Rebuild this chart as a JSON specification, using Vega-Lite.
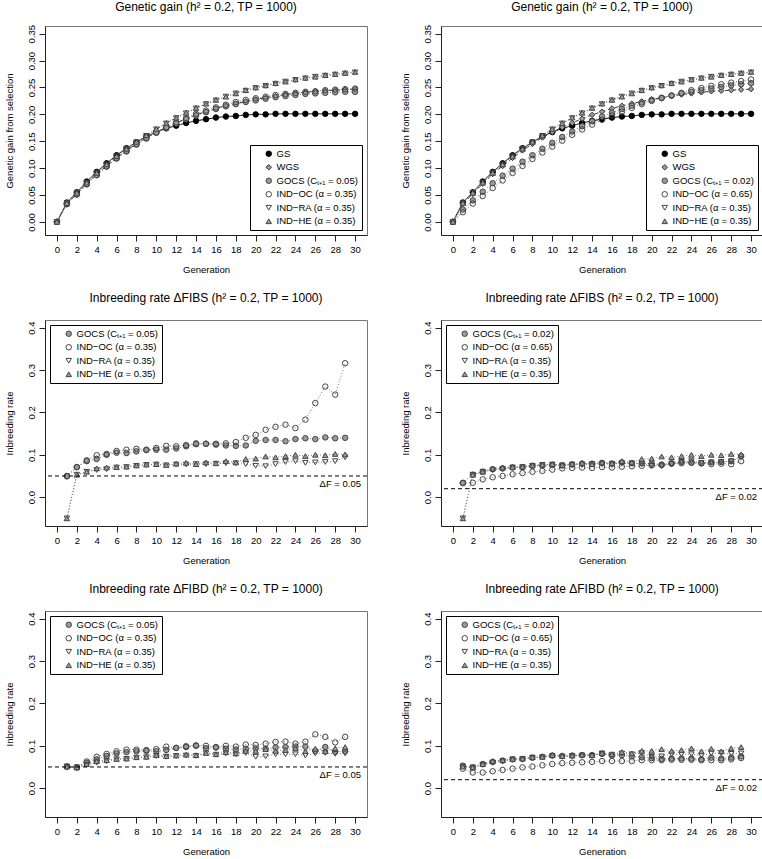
{
"$schema": "https://vega.github.io/schema/vega-lite/v6.json",
"padding": {"left": 3, "top": 0, "right": 0, "bottom": 0},
"columns": 2,
"spacing": {"row": 85, "column": 74},
"bounds": "flush",
"config": {
 "font": "Liberation Sans",
 "view": {"stroke": "#777777", "strokeWidth": 1},
 "axis": {"grid": false, "domainColor": "#222222", "tickColor": "#222222", "labelColor": "black", "titleColor": "black", "labelFontSize": 9.5, "titleFontSize": 9.5, "titleFontWeight": "normal", "tickSize": 6, "labelPadding": 3, "titlePadding": 12, "labelFont": "Liberation Sans", "titleFont": "Liberation Sans", "labelFlush": false, "labelOverlap": false},
 "axisX": {"titlePadding": 11},
 "axisY": {"labelAngle": -90, "labelAlign": "center", "labelBaseline": "bottom"},
 "title": {"fontSize": 12, "fontWeight": "normal", "font": "Liberation Sans", "color": "black", "anchor": "middle"},
 "legend": {"strokeColor": "black", "fillColor": "white", "padding": 4, "cornerRadius": 0, "labelFontSize": 9.5, "labelFont": "Liberation Sans", "labelColor": "black", "symbolSize": 30, "symbolStrokeWidth": 1, "rowPadding": 2.5, "symbolOffset": 10, "labelOffset": 3, "labelLimit": 300}
},
"datasets": {
"gl": [
{"g":0,"s":"GS","v":0},{"g":1,"s":"GS","v":0.036},{"g":2,"s":"GS","v":0.055},{"g":3,"s":"GS","v":0.075},{"g":4,"s":"GS","v":0.093},{"g":5,"s":"GS","v":0.109},{"g":6,"s":"GS","v":0.124},{"g":7,"s":"GS","v":0.137},{"g":8,"s":"GS","v":0.148},{"g":9,"s":"GS","v":0.159},{"g":10,"s":"GS","v":0.167},{"g":11,"s":"GS","v":0.174},{"g":12,"s":"GS","v":0.179},{"g":13,"s":"GS","v":0.184},{"g":14,"s":"GS","v":0.188},{"g":15,"s":"GS","v":0.191},{"g":16,"s":"GS","v":0.194},{"g":17,"s":"GS","v":0.196},{"g":18,"s":"GS","v":0.197},{"g":19,"s":"GS","v":0.199},{"g":20,"s":"GS","v":0.2},{"g":21,"s":"GS","v":0.2},{"g":22,"s":"GS","v":0.201},{"g":23,"s":"GS","v":0.201},{"g":24,"s":"GS","v":0.201},{"g":25,"s":"GS","v":0.201},{"g":26,"s":"GS","v":0.201},{"g":27,"s":"GS","v":0.201},{"g":28,"s":"GS","v":0.201},{"g":29,"s":"GS","v":0.201},{"g":30,"s":"GS","v":0.201},
{"g":0,"s":"WGS","v":0},{"g":1,"s":"WGS","v":0.034},{"g":2,"s":"WGS","v":0.052},{"g":3,"s":"WGS","v":0.071},{"g":4,"s":"WGS","v":0.089},{"g":5,"s":"WGS","v":0.104},{"g":6,"s":"WGS","v":0.119},{"g":7,"s":"WGS","v":0.133},{"g":8,"s":"WGS","v":0.145},{"g":9,"s":"WGS","v":0.157},{"g":10,"s":"WGS","v":0.167},{"g":11,"s":"WGS","v":0.176},{"g":12,"s":"WGS","v":0.184},{"g":13,"s":"WGS","v":0.192},{"g":14,"s":"WGS","v":0.199},{"g":15,"s":"WGS","v":0.205},{"g":16,"s":"WGS","v":0.211},{"g":17,"s":"WGS","v":0.216},{"g":18,"s":"WGS","v":0.22},{"g":19,"s":"WGS","v":0.224},{"g":20,"s":"WGS","v":0.228},{"g":21,"s":"WGS","v":0.231},{"g":22,"s":"WGS","v":0.234},{"g":23,"s":"WGS","v":0.237},{"g":24,"s":"WGS","v":0.239},{"g":25,"s":"WGS","v":0.241},{"g":26,"s":"WGS","v":0.243},{"g":27,"s":"WGS","v":0.244},{"g":28,"s":"WGS","v":0.245},{"g":29,"s":"WGS","v":0.246},{"g":30,"s":"WGS","v":0.247},
{"g":0,"s":"GOCS","v":0},{"g":1,"s":"GOCS","v":0.033},{"g":2,"s":"GOCS","v":0.051},{"g":3,"s":"GOCS","v":0.07},{"g":4,"s":"GOCS","v":0.087},{"g":5,"s":"GOCS","v":0.103},{"g":6,"s":"GOCS","v":0.118},{"g":7,"s":"GOCS","v":0.131},{"g":8,"s":"GOCS","v":0.144},{"g":9,"s":"GOCS","v":0.155},{"g":10,"s":"GOCS","v":0.166},{"g":11,"s":"GOCS","v":0.175},{"g":12,"s":"GOCS","v":0.183},{"g":13,"s":"GOCS","v":0.191},{"g":14,"s":"GOCS","v":0.198},{"g":15,"s":"GOCS","v":0.204},{"g":16,"s":"GOCS","v":0.21},{"g":17,"s":"GOCS","v":0.215},{"g":18,"s":"GOCS","v":0.219},{"g":19,"s":"GOCS","v":0.223},{"g":20,"s":"GOCS","v":0.226},{"g":21,"s":"GOCS","v":0.229},{"g":22,"s":"GOCS","v":0.232},{"g":23,"s":"GOCS","v":0.234},{"g":24,"s":"GOCS","v":0.236},{"g":25,"s":"GOCS","v":0.238},{"g":26,"s":"GOCS","v":0.239},{"g":27,"s":"GOCS","v":0.24},{"g":28,"s":"GOCS","v":0.241},{"g":29,"s":"GOCS","v":0.242},{"g":30,"s":"GOCS","v":0.242},
{"g":0,"s":"OC","v":0},{"g":1,"s":"OC","v":0.033},{"g":2,"s":"OC","v":0.051},{"g":3,"s":"OC","v":0.07},{"g":4,"s":"OC","v":0.087},{"g":5,"s":"OC","v":0.103},{"g":6,"s":"OC","v":0.118},{"g":7,"s":"OC","v":0.132},{"g":8,"s":"OC","v":0.144},{"g":9,"s":"OC","v":0.156},{"g":10,"s":"OC","v":0.166},{"g":11,"s":"OC","v":0.176},{"g":12,"s":"OC","v":0.185},{"g":13,"s":"OC","v":0.193},{"g":14,"s":"OC","v":0.201},{"g":15,"s":"OC","v":0.207},{"g":16,"s":"OC","v":0.213},{"g":17,"s":"OC","v":0.218},{"g":18,"s":"OC","v":0.223},{"g":19,"s":"OC","v":0.227},{"g":20,"s":"OC","v":0.23},{"g":21,"s":"OC","v":0.233},{"g":22,"s":"OC","v":0.236},{"g":23,"s":"OC","v":0.238},{"g":24,"s":"OC","v":0.24},{"g":25,"s":"OC","v":0.242},{"g":26,"s":"OC","v":0.243},{"g":27,"s":"OC","v":0.245},{"g":28,"s":"OC","v":0.246},{"g":29,"s":"OC","v":0.247},{"g":30,"s":"OC","v":0.248},
{"g":0,"s":"RA","v":0},{"g":1,"s":"RA","v":0.035},{"g":2,"s":"RA","v":0.054},{"g":3,"s":"RA","v":0.073},{"g":4,"s":"RA","v":0.091},{"g":5,"s":"RA","v":0.107},{"g":6,"s":"RA","v":0.122},{"g":7,"s":"RA","v":0.136},{"g":8,"s":"RA","v":0.148},{"g":9,"s":"RA","v":0.16},{"g":10,"s":"RA","v":0.172},{"g":11,"s":"RA","v":0.183},{"g":12,"s":"RA","v":0.193},{"g":13,"s":"RA","v":0.202},{"g":14,"s":"RA","v":0.211},{"g":15,"s":"RA","v":0.219},{"g":16,"s":"RA","v":0.226},{"g":17,"s":"RA","v":0.233},{"g":18,"s":"RA","v":0.239},{"g":19,"s":"RA","v":0.244},{"g":20,"s":"RA","v":0.249},{"g":21,"s":"RA","v":0.253},{"g":22,"s":"RA","v":0.257},{"g":23,"s":"RA","v":0.261},{"g":24,"s":"RA","v":0.264},{"g":25,"s":"RA","v":0.267},{"g":26,"s":"RA","v":0.27},{"g":27,"s":"RA","v":0.272},{"g":28,"s":"RA","v":0.274},{"g":29,"s":"RA","v":0.276},{"g":30,"s":"RA","v":0.278},
{"g":0,"s":"HE","v":0},{"g":1,"s":"HE","v":0.035},{"g":2,"s":"HE","v":0.054},{"g":3,"s":"HE","v":0.073},{"g":4,"s":"HE","v":0.091},{"g":5,"s":"HE","v":0.107},{"g":6,"s":"HE","v":0.122},{"g":7,"s":"HE","v":0.136},{"g":8,"s":"HE","v":0.149},{"g":9,"s":"HE","v":0.161},{"g":10,"s":"HE","v":0.173},{"g":11,"s":"HE","v":0.184},{"g":12,"s":"HE","v":0.194},{"g":13,"s":"HE","v":0.203},{"g":14,"s":"HE","v":0.212},{"g":15,"s":"HE","v":0.22},{"g":16,"s":"HE","v":0.227},{"g":17,"s":"HE","v":0.233},{"g":18,"s":"HE","v":0.239},{"g":19,"s":"HE","v":0.245},{"g":20,"s":"HE","v":0.25},{"g":21,"s":"HE","v":0.254},{"g":22,"s":"HE","v":0.258},{"g":23,"s":"HE","v":0.261},{"g":24,"s":"HE","v":0.265},{"g":25,"s":"HE","v":0.268},{"g":26,"s":"HE","v":0.27},{"g":27,"s":"HE","v":0.273},{"g":28,"s":"HE","v":0.275},{"g":29,"s":"HE","v":0.277},{"g":30,"s":"HE","v":0.279}
],
"gr": [
{"g":0,"s":"GS","v":0},{"g":1,"s":"GS","v":0.036},{"g":2,"s":"GS","v":0.055},{"g":3,"s":"GS","v":0.075},{"g":4,"s":"GS","v":0.093},{"g":5,"s":"GS","v":0.109},{"g":6,"s":"GS","v":0.124},{"g":7,"s":"GS","v":0.137},{"g":8,"s":"GS","v":0.148},{"g":9,"s":"GS","v":0.159},{"g":10,"s":"GS","v":0.167},{"g":11,"s":"GS","v":0.174},{"g":12,"s":"GS","v":0.179},{"g":13,"s":"GS","v":0.184},{"g":14,"s":"GS","v":0.188},{"g":15,"s":"GS","v":0.191},{"g":16,"s":"GS","v":0.194},{"g":17,"s":"GS","v":0.196},{"g":18,"s":"GS","v":0.197},{"g":19,"s":"GS","v":0.199},{"g":20,"s":"GS","v":0.2},{"g":21,"s":"GS","v":0.2},{"g":22,"s":"GS","v":0.201},{"g":23,"s":"GS","v":0.201},{"g":24,"s":"GS","v":0.201},{"g":25,"s":"GS","v":0.201},{"g":26,"s":"GS","v":0.201},{"g":27,"s":"GS","v":0.201},{"g":28,"s":"GS","v":0.201},{"g":29,"s":"GS","v":0.201},{"g":30,"s":"GS","v":0.201},
{"g":0,"s":"WGS","v":0},{"g":1,"s":"WGS","v":0.034},{"g":2,"s":"WGS","v":0.052},{"g":3,"s":"WGS","v":0.071},{"g":4,"s":"WGS","v":0.089},{"g":5,"s":"WGS","v":0.104},{"g":6,"s":"WGS","v":0.119},{"g":7,"s":"WGS","v":0.133},{"g":8,"s":"WGS","v":0.145},{"g":9,"s":"WGS","v":0.157},{"g":10,"s":"WGS","v":0.167},{"g":11,"s":"WGS","v":0.176},{"g":12,"s":"WGS","v":0.184},{"g":13,"s":"WGS","v":0.192},{"g":14,"s":"WGS","v":0.199},{"g":15,"s":"WGS","v":0.205},{"g":16,"s":"WGS","v":0.211},{"g":17,"s":"WGS","v":0.216},{"g":18,"s":"WGS","v":0.22},{"g":19,"s":"WGS","v":0.224},{"g":20,"s":"WGS","v":0.228},{"g":21,"s":"WGS","v":0.231},{"g":22,"s":"WGS","v":0.234},{"g":23,"s":"WGS","v":0.237},{"g":24,"s":"WGS","v":0.239},{"g":25,"s":"WGS","v":0.241},{"g":26,"s":"WGS","v":0.243},{"g":27,"s":"WGS","v":0.244},{"g":28,"s":"WGS","v":0.245},{"g":29,"s":"WGS","v":0.246},{"g":30,"s":"WGS","v":0.247},
{"g":0,"s":"GOCS","v":0},{"g":1,"s":"GOCS","v":0.023},{"g":2,"s":"GOCS","v":0.04},{"g":3,"s":"GOCS","v":0.056},{"g":4,"s":"GOCS","v":0.072},{"g":5,"s":"GOCS","v":0.086},{"g":6,"s":"GOCS","v":0.099},{"g":7,"s":"GOCS","v":0.112},{"g":8,"s":"GOCS","v":0.124},{"g":9,"s":"GOCS","v":0.136},{"g":10,"s":"GOCS","v":0.147},{"g":11,"s":"GOCS","v":0.158},{"g":12,"s":"GOCS","v":0.168},{"g":13,"s":"GOCS","v":0.178},{"g":14,"s":"GOCS","v":0.187},{"g":15,"s":"GOCS","v":0.196},{"g":16,"s":"GOCS","v":0.203},{"g":17,"s":"GOCS","v":0.21},{"g":18,"s":"GOCS","v":0.216},{"g":19,"s":"GOCS","v":0.222},{"g":20,"s":"GOCS","v":0.227},{"g":21,"s":"GOCS","v":0.231},{"g":22,"s":"GOCS","v":0.235},{"g":23,"s":"GOCS","v":0.239},{"g":24,"s":"GOCS","v":0.242},{"g":25,"s":"GOCS","v":0.245},{"g":26,"s":"GOCS","v":0.248},{"g":27,"s":"GOCS","v":0.251},{"g":28,"s":"GOCS","v":0.254},{"g":29,"s":"GOCS","v":0.256},{"g":30,"s":"GOCS","v":0.258},
{"g":0,"s":"OC","v":0},{"g":1,"s":"OC","v":0.018},{"g":2,"s":"OC","v":0.034},{"g":3,"s":"OC","v":0.048},{"g":4,"s":"OC","v":0.063},{"g":5,"s":"OC","v":0.077},{"g":6,"s":"OC","v":0.091},{"g":7,"s":"OC","v":0.104},{"g":8,"s":"OC","v":0.117},{"g":9,"s":"OC","v":0.129},{"g":10,"s":"OC","v":0.14},{"g":11,"s":"OC","v":0.151},{"g":12,"s":"OC","v":0.162},{"g":13,"s":"OC","v":0.172},{"g":14,"s":"OC","v":0.181},{"g":15,"s":"OC","v":0.19},{"g":16,"s":"OC","v":0.198},{"g":17,"s":"OC","v":0.205},{"g":18,"s":"OC","v":0.212},{"g":19,"s":"OC","v":0.219},{"g":20,"s":"OC","v":0.225},{"g":21,"s":"OC","v":0.23},{"g":22,"s":"OC","v":0.235},{"g":23,"s":"OC","v":0.24},{"g":24,"s":"OC","v":0.245},{"g":25,"s":"OC","v":0.249},{"g":26,"s":"OC","v":0.253},{"g":27,"s":"OC","v":0.256},{"g":28,"s":"OC","v":0.259},{"g":29,"s":"OC","v":0.262},{"g":30,"s":"OC","v":0.265},
{"g":0,"s":"RA","v":0},{"g":1,"s":"RA","v":0.035},{"g":2,"s":"RA","v":0.054},{"g":3,"s":"RA","v":0.073},{"g":4,"s":"RA","v":0.091},{"g":5,"s":"RA","v":0.107},{"g":6,"s":"RA","v":0.122},{"g":7,"s":"RA","v":0.136},{"g":8,"s":"RA","v":0.148},{"g":9,"s":"RA","v":0.16},{"g":10,"s":"RA","v":0.172},{"g":11,"s":"RA","v":0.183},{"g":12,"s":"RA","v":0.193},{"g":13,"s":"RA","v":0.202},{"g":14,"s":"RA","v":0.211},{"g":15,"s":"RA","v":0.219},{"g":16,"s":"RA","v":0.226},{"g":17,"s":"RA","v":0.233},{"g":18,"s":"RA","v":0.239},{"g":19,"s":"RA","v":0.244},{"g":20,"s":"RA","v":0.249},{"g":21,"s":"RA","v":0.253},{"g":22,"s":"RA","v":0.257},{"g":23,"s":"RA","v":0.261},{"g":24,"s":"RA","v":0.264},{"g":25,"s":"RA","v":0.267},{"g":26,"s":"RA","v":0.27},{"g":27,"s":"RA","v":0.272},{"g":28,"s":"RA","v":0.274},{"g":29,"s":"RA","v":0.276},{"g":30,"s":"RA","v":0.278},
{"g":0,"s":"HE","v":0},{"g":1,"s":"HE","v":0.035},{"g":2,"s":"HE","v":0.054},{"g":3,"s":"HE","v":0.073},{"g":4,"s":"HE","v":0.091},{"g":5,"s":"HE","v":0.107},{"g":6,"s":"HE","v":0.122},{"g":7,"s":"HE","v":0.136},{"g":8,"s":"HE","v":0.149},{"g":9,"s":"HE","v":0.161},{"g":10,"s":"HE","v":0.173},{"g":11,"s":"HE","v":0.184},{"g":12,"s":"HE","v":0.194},{"g":13,"s":"HE","v":0.203},{"g":14,"s":"HE","v":0.212},{"g":15,"s":"HE","v":0.22},{"g":16,"s":"HE","v":0.227},{"g":17,"s":"HE","v":0.233},{"g":18,"s":"HE","v":0.239},{"g":19,"s":"HE","v":0.245},{"g":20,"s":"HE","v":0.25},{"g":21,"s":"HE","v":0.254},{"g":22,"s":"HE","v":0.258},{"g":23,"s":"HE","v":0.261},{"g":24,"s":"HE","v":0.265},{"g":25,"s":"HE","v":0.268},{"g":26,"s":"HE","v":0.27},{"g":27,"s":"HE","v":0.273},{"g":28,"s":"HE","v":0.275},{"g":29,"s":"HE","v":0.277},{"g":30,"s":"HE","v":0.279}
],
"il": [
{"g":1,"s":"GOCS","v":0.05},{"g":2,"s":"GOCS","v":0.071},{"g":3,"s":"GOCS","v":0.085},{"g":4,"s":"GOCS","v":0.09},{"g":5,"s":"GOCS","v":0.1},{"g":6,"s":"GOCS","v":0.105},{"g":7,"s":"GOCS","v":0.104},{"g":8,"s":"GOCS","v":0.108},{"g":9,"s":"GOCS","v":0.111},{"g":10,"s":"GOCS","v":0.112},{"g":11,"s":"GOCS","v":0.112},{"g":12,"s":"GOCS","v":0.115},{"g":13,"s":"GOCS","v":0.12},{"g":14,"s":"GOCS","v":0.125},{"g":15,"s":"GOCS","v":0.126},{"g":16,"s":"GOCS","v":0.124},{"g":17,"s":"GOCS","v":0.122},{"g":18,"s":"GOCS","v":0.121},{"g":19,"s":"GOCS","v":0.122},{"g":20,"s":"GOCS","v":0.133},{"g":21,"s":"GOCS","v":0.135},{"g":22,"s":"GOCS","v":0.135},{"g":23,"s":"GOCS","v":0.132},{"g":24,"s":"GOCS","v":0.137},{"g":25,"s":"GOCS","v":0.139},{"g":26,"s":"GOCS","v":0.137},{"g":27,"s":"GOCS","v":0.141},{"g":28,"s":"GOCS","v":0.139},{"g":29,"s":"GOCS","v":0.14},
{"g":1,"s":"OC","v":0.049},{"g":2,"s":"OC","v":0.071},{"g":3,"s":"OC","v":0.087},{"g":4,"s":"OC","v":0.099},{"g":5,"s":"OC","v":0.102},{"g":6,"s":"OC","v":0.109},{"g":7,"s":"OC","v":0.112},{"g":8,"s":"OC","v":0.114},{"g":9,"s":"OC","v":0.112},{"g":10,"s":"OC","v":0.116},{"g":11,"s":"OC","v":0.121},{"g":12,"s":"OC","v":0.12},{"g":13,"s":"OC","v":0.123},{"g":14,"s":"OC","v":0.127},{"g":15,"s":"OC","v":0.126},{"g":16,"s":"OC","v":0.126},{"g":17,"s":"OC","v":0.127},{"g":18,"s":"OC","v":0.13},{"g":19,"s":"OC","v":0.14},{"g":20,"s":"OC","v":0.147},{"g":21,"s":"OC","v":0.159},{"g":22,"s":"OC","v":0.166},{"g":23,"s":"OC","v":0.171},{"g":24,"s":"OC","v":0.163},{"g":25,"s":"OC","v":0.183},{"g":26,"s":"OC","v":0.222},{"g":27,"s":"OC","v":0.261},{"g":28,"s":"OC","v":0.242},{"g":29,"s":"OC","v":0.316},
{"g":1,"s":"RA","v":-0.05},{"g":2,"s":"RA","v":0.053},{"g":3,"s":"RA","v":0.06},{"g":4,"s":"RA","v":0.064},{"g":5,"s":"RA","v":0.066},{"g":6,"s":"RA","v":0.07},{"g":7,"s":"RA","v":0.071},{"g":8,"s":"RA","v":0.074},{"g":9,"s":"RA","v":0.076},{"g":10,"s":"RA","v":0.077},{"g":11,"s":"RA","v":0.075},{"g":12,"s":"RA","v":0.077},{"g":13,"s":"RA","v":0.077},{"g":14,"s":"RA","v":0.078},{"g":15,"s":"RA","v":0.078},{"g":16,"s":"RA","v":0.079},{"g":17,"s":"RA","v":0.08},{"g":18,"s":"RA","v":0.08},{"g":19,"s":"RA","v":0.078},{"g":20,"s":"RA","v":0.074},{"g":21,"s":"RA","v":0.073},{"g":22,"s":"RA","v":0.078},{"g":23,"s":"RA","v":0.083},{"g":24,"s":"RA","v":0.085},{"g":25,"s":"RA","v":0.081},{"g":26,"s":"RA","v":0.082},{"g":27,"s":"RA","v":0.083},{"g":28,"s":"RA","v":0.085},{"g":29,"s":"RA","v":0.094},
{"g":1,"s":"HE","v":-0.05},{"g":2,"s":"HE","v":0.053},{"g":3,"s":"HE","v":0.06},{"g":4,"s":"HE","v":0.068},{"g":5,"s":"HE","v":0.07},{"g":6,"s":"HE","v":0.071},{"g":7,"s":"HE","v":0.072},{"g":8,"s":"HE","v":0.075},{"g":9,"s":"HE","v":0.077},{"g":10,"s":"HE","v":0.078},{"g":11,"s":"HE","v":0.076},{"g":12,"s":"HE","v":0.079},{"g":13,"s":"HE","v":0.081},{"g":14,"s":"HE","v":0.078},{"g":15,"s":"HE","v":0.082},{"g":16,"s":"HE","v":0.08},{"g":17,"s":"HE","v":0.085},{"g":18,"s":"HE","v":0.082},{"g":19,"s":"HE","v":0.09},{"g":20,"s":"HE","v":0.091},{"g":21,"s":"HE","v":0.096},{"g":22,"s":"HE","v":0.094},{"g":23,"s":"HE","v":0.097},{"g":24,"s":"HE","v":0.1},{"g":25,"s":"HE","v":0.097},{"g":26,"s":"HE","v":0.1},{"g":27,"s":"HE","v":0.099},{"g":28,"s":"HE","v":0.102},{"g":29,"s":"HE","v":0.101}
],
"ir": [
{"g":1,"s":"GOCS","v":0.034},{"g":2,"s":"GOCS","v":0.053},{"g":3,"s":"GOCS","v":0.06},{"g":4,"s":"GOCS","v":0.066},{"g":5,"s":"GOCS","v":0.068},{"g":6,"s":"GOCS","v":0.07},{"g":7,"s":"GOCS","v":0.071},{"g":8,"s":"GOCS","v":0.074},{"g":9,"s":"GOCS","v":0.075},{"g":10,"s":"GOCS","v":0.076},{"g":11,"s":"GOCS","v":0.075},{"g":12,"s":"GOCS","v":0.077},{"g":13,"s":"GOCS","v":0.079},{"g":14,"s":"GOCS","v":0.079},{"g":15,"s":"GOCS","v":0.081},{"g":16,"s":"GOCS","v":0.079},{"g":17,"s":"GOCS","v":0.082},{"g":18,"s":"GOCS","v":0.08},{"g":19,"s":"GOCS","v":0.08},{"g":20,"s":"GOCS","v":0.079},{"g":21,"s":"GOCS","v":0.077},{"g":22,"s":"GOCS","v":0.08},{"g":23,"s":"GOCS","v":0.083},{"g":24,"s":"GOCS","v":0.082},{"g":25,"s":"GOCS","v":0.08},{"g":26,"s":"GOCS","v":0.082},{"g":27,"s":"GOCS","v":0.083},{"g":28,"s":"GOCS","v":0.085},{"g":29,"s":"GOCS","v":0.097},
{"g":1,"s":"OC","v":0.033},{"g":2,"s":"OC","v":0.034},{"g":3,"s":"OC","v":0.042},{"g":4,"s":"OC","v":0.047},{"g":5,"s":"OC","v":0.05},{"g":6,"s":"OC","v":0.054},{"g":7,"s":"OC","v":0.057},{"g":8,"s":"OC","v":0.06},{"g":9,"s":"OC","v":0.062},{"g":10,"s":"OC","v":0.065},{"g":11,"s":"OC","v":0.068},{"g":12,"s":"OC","v":0.069},{"g":13,"s":"OC","v":0.07},{"g":14,"s":"OC","v":0.069},{"g":15,"s":"OC","v":0.071},{"g":16,"s":"OC","v":0.07},{"g":17,"s":"OC","v":0.072},{"g":18,"s":"OC","v":0.073},{"g":19,"s":"OC","v":0.074},{"g":20,"s":"OC","v":0.075},{"g":21,"s":"OC","v":0.076},{"g":22,"s":"OC","v":0.079},{"g":23,"s":"OC","v":0.08},{"g":24,"s":"OC","v":0.081},{"g":25,"s":"OC","v":0.08},{"g":26,"s":"OC","v":0.078},{"g":27,"s":"OC","v":0.079},{"g":28,"s":"OC","v":0.078},{"g":29,"s":"OC","v":0.085},
{"g":1,"s":"RA","v":-0.05},{"g":2,"s":"RA","v":0.053},{"g":3,"s":"RA","v":0.06},{"g":4,"s":"RA","v":0.064},{"g":5,"s":"RA","v":0.066},{"g":6,"s":"RA","v":0.07},{"g":7,"s":"RA","v":0.071},{"g":8,"s":"RA","v":0.074},{"g":9,"s":"RA","v":0.076},{"g":10,"s":"RA","v":0.077},{"g":11,"s":"RA","v":0.075},{"g":12,"s":"RA","v":0.077},{"g":13,"s":"RA","v":0.077},{"g":14,"s":"RA","v":0.078},{"g":15,"s":"RA","v":0.078},{"g":16,"s":"RA","v":0.079},{"g":17,"s":"RA","v":0.08},{"g":18,"s":"RA","v":0.08},{"g":19,"s":"RA","v":0.078},{"g":20,"s":"RA","v":0.074},{"g":21,"s":"RA","v":0.073},{"g":22,"s":"RA","v":0.078},{"g":23,"s":"RA","v":0.083},{"g":24,"s":"RA","v":0.085},{"g":25,"s":"RA","v":0.081},{"g":26,"s":"RA","v":0.082},{"g":27,"s":"RA","v":0.083},{"g":28,"s":"RA","v":0.085},{"g":29,"s":"RA","v":0.094},
{"g":1,"s":"HE","v":-0.05},{"g":2,"s":"HE","v":0.053},{"g":3,"s":"HE","v":0.06},{"g":4,"s":"HE","v":0.068},{"g":5,"s":"HE","v":0.07},{"g":6,"s":"HE","v":0.071},{"g":7,"s":"HE","v":0.072},{"g":8,"s":"HE","v":0.075},{"g":9,"s":"HE","v":0.077},{"g":10,"s":"HE","v":0.078},{"g":11,"s":"HE","v":0.076},{"g":12,"s":"HE","v":0.079},{"g":13,"s":"HE","v":0.081},{"g":14,"s":"HE","v":0.078},{"g":15,"s":"HE","v":0.082},{"g":16,"s":"HE","v":0.08},{"g":17,"s":"HE","v":0.085},{"g":18,"s":"HE","v":0.082},{"g":19,"s":"HE","v":0.09},{"g":20,"s":"HE","v":0.091},{"g":21,"s":"HE","v":0.096},{"g":22,"s":"HE","v":0.094},{"g":23,"s":"HE","v":0.097},{"g":24,"s":"HE","v":0.1},{"g":25,"s":"HE","v":0.097},{"g":26,"s":"HE","v":0.1},{"g":27,"s":"HE","v":0.099},{"g":28,"s":"HE","v":0.102},{"g":29,"s":"HE","v":0.101}
],
"dl": [
{"g":1,"s":"GOCS","v":0.051},{"g":2,"s":"GOCS","v":0.049},{"g":3,"s":"GOCS","v":0.06},{"g":4,"s":"GOCS","v":0.068},{"g":5,"s":"GOCS","v":0.076},{"g":6,"s":"GOCS","v":0.082},{"g":7,"s":"GOCS","v":0.085},{"g":8,"s":"GOCS","v":0.087},{"g":9,"s":"GOCS","v":0.088},{"g":10,"s":"GOCS","v":0.087},{"g":11,"s":"GOCS","v":0.09},{"g":12,"s":"GOCS","v":0.095},{"g":13,"s":"GOCS","v":0.097},{"g":14,"s":"GOCS","v":0.1},{"g":15,"s":"GOCS","v":0.094},{"g":16,"s":"GOCS","v":0.096},{"g":17,"s":"GOCS","v":0.093},{"g":18,"s":"GOCS","v":0.091},{"g":19,"s":"GOCS","v":0.093},{"g":20,"s":"GOCS","v":0.094},{"g":21,"s":"GOCS","v":0.093},{"g":22,"s":"GOCS","v":0.096},{"g":23,"s":"GOCS","v":0.097},{"g":24,"s":"GOCS","v":0.098},{"g":25,"s":"GOCS","v":0.098},{"g":26,"s":"GOCS","v":0.088},{"g":27,"s":"GOCS","v":0.097},{"g":28,"s":"GOCS","v":0.086},{"g":29,"s":"GOCS","v":0.087},
{"g":1,"s":"OC","v":0.051},{"g":2,"s":"OC","v":0.049},{"g":3,"s":"OC","v":0.063},{"g":4,"s":"OC","v":0.074},{"g":5,"s":"OC","v":0.081},{"g":6,"s":"OC","v":0.087},{"g":7,"s":"OC","v":0.091},{"g":8,"s":"OC","v":0.091},{"g":9,"s":"OC","v":0.09},{"g":10,"s":"OC","v":0.092},{"g":11,"s":"OC","v":0.098},{"g":12,"s":"OC","v":0.095},{"g":13,"s":"OC","v":0.099},{"g":14,"s":"OC","v":0.101},{"g":15,"s":"OC","v":0.1},{"g":16,"s":"OC","v":0.097},{"g":17,"s":"OC","v":0.1},{"g":18,"s":"OC","v":0.098},{"g":19,"s":"OC","v":0.103},{"g":20,"s":"OC","v":0.102},{"g":21,"s":"OC","v":0.105},{"g":22,"s":"OC","v":0.109},{"g":23,"s":"OC","v":0.11},{"g":24,"s":"OC","v":0.105},{"g":25,"s":"OC","v":0.11},{"g":26,"s":"OC","v":0.127},{"g":27,"s":"OC","v":0.121},{"g":28,"s":"OC","v":0.108},{"g":29,"s":"OC","v":0.121},
{"g":1,"s":"RA","v":0.051},{"g":2,"s":"RA","v":0.049},{"g":3,"s":"RA","v":0.055},{"g":4,"s":"RA","v":0.06},{"g":5,"s":"RA","v":0.064},{"g":6,"s":"RA","v":0.068},{"g":7,"s":"RA","v":0.069},{"g":8,"s":"RA","v":0.072},{"g":9,"s":"RA","v":0.073},{"g":10,"s":"RA","v":0.076},{"g":11,"s":"RA","v":0.074},{"g":12,"s":"RA","v":0.076},{"g":13,"s":"RA","v":0.077},{"g":14,"s":"RA","v":0.076},{"g":15,"s":"RA","v":0.082},{"g":16,"s":"RA","v":0.079},{"g":17,"s":"RA","v":0.082},{"g":18,"s":"RA","v":0.08},{"g":19,"s":"RA","v":0.083},{"g":20,"s":"RA","v":0.074},{"g":21,"s":"RA","v":0.075},{"g":22,"s":"RA","v":0.08},{"g":23,"s":"RA","v":0.08},{"g":24,"s":"RA","v":0.08},{"g":25,"s":"RA","v":0.077},{"g":26,"s":"RA","v":0.082},{"g":27,"s":"RA","v":0.083},{"g":28,"s":"RA","v":0.081},{"g":29,"s":"RA","v":0.082},
{"g":1,"s":"HE","v":0.051},{"g":2,"s":"HE","v":0.049},{"g":3,"s":"HE","v":0.057},{"g":4,"s":"HE","v":0.064},{"g":5,"s":"HE","v":0.066},{"g":6,"s":"HE","v":0.069},{"g":7,"s":"HE","v":0.07},{"g":8,"s":"HE","v":0.073},{"g":9,"s":"HE","v":0.074},{"g":10,"s":"HE","v":0.078},{"g":11,"s":"HE","v":0.076},{"g":12,"s":"HE","v":0.077},{"g":13,"s":"HE","v":0.079},{"g":14,"s":"HE","v":0.078},{"g":15,"s":"HE","v":0.083},{"g":16,"s":"HE","v":0.08},{"g":17,"s":"HE","v":0.085},{"g":18,"s":"HE","v":0.082},{"g":19,"s":"HE","v":0.088},{"g":20,"s":"HE","v":0.088},{"g":21,"s":"HE","v":0.092},{"g":22,"s":"HE","v":0.088},{"g":23,"s":"HE","v":0.09},{"g":24,"s":"HE","v":0.094},{"g":25,"s":"HE","v":0.087},{"g":26,"s":"HE","v":0.093},{"g":27,"s":"HE","v":0.087},{"g":28,"s":"HE","v":0.094},{"g":29,"s":"HE","v":0.097}
],
"dr": [
{"g":1,"s":"GOCS","v":0.053},{"g":2,"s":"GOCS","v":0.049},{"g":3,"s":"GOCS","v":0.057},{"g":4,"s":"GOCS","v":0.062},{"g":5,"s":"GOCS","v":0.065},{"g":6,"s":"GOCS","v":0.068},{"g":7,"s":"GOCS","v":0.069},{"g":8,"s":"GOCS","v":0.072},{"g":9,"s":"GOCS","v":0.074},{"g":10,"s":"GOCS","v":0.077},{"g":11,"s":"GOCS","v":0.076},{"g":12,"s":"GOCS","v":0.077},{"g":13,"s":"GOCS","v":0.078},{"g":14,"s":"GOCS","v":0.078},{"g":15,"s":"GOCS","v":0.081},{"g":16,"s":"GOCS","v":0.077},{"g":17,"s":"GOCS","v":0.078},{"g":18,"s":"GOCS","v":0.075},{"g":19,"s":"GOCS","v":0.073},{"g":20,"s":"GOCS","v":0.071},{"g":21,"s":"GOCS","v":0.069},{"g":22,"s":"GOCS","v":0.07},{"g":23,"s":"GOCS","v":0.07},{"g":24,"s":"GOCS","v":0.07},{"g":25,"s":"GOCS","v":0.068},{"g":26,"s":"GOCS","v":0.072},{"g":27,"s":"GOCS","v":0.07},{"g":28,"s":"GOCS","v":0.072},{"g":29,"s":"GOCS","v":0.075},
{"g":1,"s":"OC","v":0.046},{"g":2,"s":"OC","v":0.037},{"g":3,"s":"OC","v":0.037},{"g":4,"s":"OC","v":0.04},{"g":5,"s":"OC","v":0.043},{"g":6,"s":"OC","v":0.046},{"g":7,"s":"OC","v":0.049},{"g":8,"s":"OC","v":0.051},{"g":9,"s":"OC","v":0.054},{"g":10,"s":"OC","v":0.057},{"g":11,"s":"OC","v":0.059},{"g":12,"s":"OC","v":0.06},{"g":13,"s":"OC","v":0.061},{"g":14,"s":"OC","v":0.062},{"g":15,"s":"OC","v":0.064},{"g":16,"s":"OC","v":0.064},{"g":17,"s":"OC","v":0.064},{"g":18,"s":"OC","v":0.064},{"g":19,"s":"OC","v":0.066},{"g":20,"s":"OC","v":0.066},{"g":21,"s":"OC","v":0.066},{"g":22,"s":"OC","v":0.067},{"g":23,"s":"OC","v":0.067},{"g":24,"s":"OC","v":0.067},{"g":25,"s":"OC","v":0.066},{"g":26,"s":"OC","v":0.066},{"g":27,"s":"OC","v":0.066},{"g":28,"s":"OC","v":0.068},{"g":29,"s":"OC","v":0.071},
{"g":1,"s":"RA","v":0.051},{"g":2,"s":"RA","v":0.049},{"g":3,"s":"RA","v":0.055},{"g":4,"s":"RA","v":0.06},{"g":5,"s":"RA","v":0.064},{"g":6,"s":"RA","v":0.068},{"g":7,"s":"RA","v":0.069},{"g":8,"s":"RA","v":0.072},{"g":9,"s":"RA","v":0.073},{"g":10,"s":"RA","v":0.076},{"g":11,"s":"RA","v":0.074},{"g":12,"s":"RA","v":0.076},{"g":13,"s":"RA","v":0.077},{"g":14,"s":"RA","v":0.076},{"g":15,"s":"RA","v":0.082},{"g":16,"s":"RA","v":0.079},{"g":17,"s":"RA","v":0.082},{"g":18,"s":"RA","v":0.08},{"g":19,"s":"RA","v":0.083},{"g":20,"s":"RA","v":0.074},{"g":21,"s":"RA","v":0.075},{"g":22,"s":"RA","v":0.08},{"g":23,"s":"RA","v":0.08},{"g":24,"s":"RA","v":0.08},{"g":25,"s":"RA","v":0.077},{"g":26,"s":"RA","v":0.082},{"g":27,"s":"RA","v":0.083},{"g":28,"s":"RA","v":0.081},{"g":29,"s":"RA","v":0.082},
{"g":1,"s":"HE","v":0.051},{"g":2,"s":"HE","v":0.049},{"g":3,"s":"HE","v":0.057},{"g":4,"s":"HE","v":0.064},{"g":5,"s":"HE","v":0.066},{"g":6,"s":"HE","v":0.069},{"g":7,"s":"HE","v":0.07},{"g":8,"s":"HE","v":0.073},{"g":9,"s":"HE","v":0.074},{"g":10,"s":"HE","v":0.078},{"g":11,"s":"HE","v":0.076},{"g":12,"s":"HE","v":0.077},{"g":13,"s":"HE","v":0.079},{"g":14,"s":"HE","v":0.078},{"g":15,"s":"HE","v":0.083},{"g":16,"s":"HE","v":0.08},{"g":17,"s":"HE","v":0.085},{"g":18,"s":"HE","v":0.082},{"g":19,"s":"HE","v":0.088},{"g":20,"s":"HE","v":0.088},{"g":21,"s":"HE","v":0.092},{"g":22,"s":"HE","v":0.088},{"g":23,"s":"HE","v":0.09},{"g":24,"s":"HE","v":0.094},{"g":25,"s":"HE","v":0.087},{"g":26,"s":"HE","v":0.093},{"g":27,"s":"HE","v":0.087},{"g":28,"s":"HE","v":0.094},{"g":29,"s":"HE","v":0.097}
]
},
"concat": [
{"width": 322, "height": 209, "title": {"text": "Genetic gain (h² = 0.2, TP = 1000)", "offset": 10},
 "data": {"name": "gl"},
 "layer": [
  {"mark": {"type": "line", "strokeWidth": 1},
   "encoding": {
    "x": {"field": "g", "type": "quantitative", "scale": {"domain": [-1.2, 31.2], "nice": false, "zero": false}, "axis": {"values": [0,2,4,6,8,10,12,14,16,18,20,22,24,26,28,30], "tickCount": 100, "format": "d", "title": "Generation", "labelOverlap": false}},
    "y": {"field": "v", "type": "quantitative", "scale": {"domain": [-0.0244, 0.3644], "nice": false, "zero": false}, "axis": {"values": [0,0.05,0.1,0.15,0.2,0.25,0.3,0.35], "tickCount": 100, "format": ".2f", "title": "Genetic gain from selection", "labelOverlap": false}},
    "color": {"field": "s", "type": "nominal", "scale": {"domain": ["GS","WGS","GOCS","OC","RA","HE"], "range": ["black","#333333","#777777","#777777","#777777","#777777"]}, "legend": null},
    "strokeDash": {"field": "s", "type": "nominal", "scale": {"domain": ["GS","WGS","GOCS","OC","RA","HE"], "range": [[1,0],[4,3],[1,2],[1,2],[1,2],[1,2]]}, "legend": null}
   }},
  {"mark": {"type": "point", "size": 30, "strokeWidth": 1, "opacity": 1},
   "encoding": {
    "x": {"field": "g", "type": "quantitative"},
    "y": {"field": "v", "type": "quantitative"},
    "shape": {"field": "s", "type": "nominal", "scale": {"domain": ["GS","WGS","GOCS","OC","RA","HE"], "range": ["circle","diamond","circle","circle","triangle-down","triangle-up"]}, "legend": {"orient": "bottom-right", "title": null, "offset": 5, "labelExpr": "datum.value=='GOCS'?'GOCS (Cₜ₊₁ = 0.05)':datum.value=='OC'?'IND−OC (α = 0.35)':datum.value=='RA'?'IND−RA (α = 0.35)':datum.value=='HE'?'IND−HE (α = 0.35)':datum.value"}},
    "fill": {"field": "s", "type": "nominal", "scale": {"domain": ["GS","WGS","GOCS","OC","RA","HE"], "range": ["black","#9a9a9a","#9a9a9a","transparent","transparent","#9a9a9a"]}, "legend": {"orient": "bottom-right", "title": null, "offset": 5, "labelExpr": "datum.value=='GOCS'?'GOCS (Cₜ₊₁ = 0.05)':datum.value=='OC'?'IND−OC (α = 0.35)':datum.value=='RA'?'IND−RA (α = 0.35)':datum.value=='HE'?'IND−HE (α = 0.35)':datum.value"}},
    "stroke": {"field": "s", "type": "nominal", "scale": {"domain": ["GS","WGS","GOCS","OC","RA","HE"], "range": ["black","#333333","#444444","#444444","#444444","#444444"]}, "legend": {"orient": "bottom-right", "title": null, "offset": 5, "labelExpr": "datum.value=='GOCS'?'GOCS (Cₜ₊₁ = 0.05)':datum.value=='OC'?'IND−OC (α = 0.35)':datum.value=='RA'?'IND−RA (α = 0.35)':datum.value=='HE'?'IND−HE (α = 0.35)':datum.value"}}
   }}
 ]},
{"width": 322, "height": 209, "title": {"text": "Genetic gain (h² = 0.2, TP = 1000)", "offset": 10},
 "data": {"name": "gr"},
 "layer": [
  {"mark": {"type": "line", "strokeWidth": 1},
   "encoding": {
    "x": {"field": "g", "type": "quantitative", "scale": {"domain": [-1.2, 31.2], "nice": false, "zero": false}, "axis": {"values": [0,2,4,6,8,10,12,14,16,18,20,22,24,26,28,30], "tickCount": 100, "format": "d", "title": "Generation", "labelOverlap": false}},
    "y": {"field": "v", "type": "quantitative", "scale": {"domain": [-0.0244, 0.3644], "nice": false, "zero": false}, "axis": {"values": [0,0.05,0.1,0.15,0.2,0.25,0.3,0.35], "tickCount": 100, "format": ".2f", "title": "Genetic gain from selection", "labelOverlap": false}},
    "color": {"field": "s", "type": "nominal", "scale": {"domain": ["GS","WGS","GOCS","OC","RA","HE"], "range": ["black","#333333","#777777","#777777","#777777","#777777"]}, "legend": null},
    "strokeDash": {"field": "s", "type": "nominal", "scale": {"domain": ["GS","WGS","GOCS","OC","RA","HE"], "range": [[1,0],[4,3],[1,2],[1,2],[1,2],[1,2]]}, "legend": null}
   }},
  {"mark": {"type": "point", "size": 30, "strokeWidth": 1, "opacity": 1},
   "encoding": {
    "x": {"field": "g", "type": "quantitative"},
    "y": {"field": "v", "type": "quantitative"},
    "shape": {"field": "s", "type": "nominal", "scale": {"domain": ["GS","WGS","GOCS","OC","RA","HE"], "range": ["circle","diamond","circle","circle","triangle-down","triangle-up"]}, "legend": {"orient": "bottom-right", "title": null, "offset": 5, "labelExpr": "datum.value=='GOCS'?'GOCS (Cₜ₊₁ = 0.02)':datum.value=='OC'?'IND−OC (α = 0.65)':datum.value=='RA'?'IND−RA (α = 0.35)':datum.value=='HE'?'IND−HE (α = 0.35)':datum.value"}},
    "fill": {"field": "s", "type": "nominal", "scale": {"domain": ["GS","WGS","GOCS","OC","RA","HE"], "range": ["black","#9a9a9a","#9a9a9a","transparent","transparent","#9a9a9a"]}, "legend": {"orient": "bottom-right", "title": null, "offset": 5, "labelExpr": "datum.value=='GOCS'?'GOCS (Cₜ₊₁ = 0.02)':datum.value=='OC'?'IND−OC (α = 0.65)':datum.value=='RA'?'IND−RA (α = 0.35)':datum.value=='HE'?'IND−HE (α = 0.35)':datum.value"}},
    "stroke": {"field": "s", "type": "nominal", "scale": {"domain": ["GS","WGS","GOCS","OC","RA","HE"], "range": ["black","#333333","#444444","#444444","#444444","#444444"]}, "legend": {"orient": "bottom-right", "title": null, "offset": 5, "labelExpr": "datum.value=='GOCS'?'GOCS (Cₜ₊₁ = 0.02)':datum.value=='OC'?'IND−OC (α = 0.65)':datum.value=='RA'?'IND−RA (α = 0.35)':datum.value=='HE'?'IND−HE (α = 0.35)':datum.value"}}
   }}
 ]},
{"width": 322, "height": 206, "title": {"text": "Inbreeding rate ΔFIBS (h² = 0.2, TP = 1000)", "offset": 15},
 "data": {"name": "il"},
 "layer": [
  {"mark": {"type": "line", "strokeWidth": 1},
   "encoding": {
    "x": {"field": "g", "type": "quantitative", "scale": {"domain": [-1.2, 31.2], "nice": false, "zero": false}, "axis": {"values": [0,2,4,6,8,10,12,14,16,18,20,22,24,26,28,30], "tickCount": 100, "format": "d", "title": "Generation", "labelOverlap": false}},
    "y": {"field": "v", "type": "quantitative", "scale": {"domain": [-0.068, 0.418], "nice": false, "zero": false}, "axis": {"values": [0,0.1,0.2,0.3,0.4], "tickCount": 100, "format": ".1f", "title": "Inbreeding rate", "labelOverlap": false}},
    "color": {"field": "s", "type": "nominal", "scale": {"domain": ["GS","WGS","GOCS","OC","RA","HE"], "range": ["black","#333333","#777777","#777777","#777777","#777777"]}, "legend": null},
    "strokeDash": {"field": "s", "type": "nominal", "scale": {"domain": ["GS","WGS","GOCS","OC","RA","HE"], "range": [[1,0],[4,3],[1,2],[1,2],[1,2],[1,2]]}, "legend": null}
   }},
  {"mark": {"type": "point", "size": 30, "strokeWidth": 1, "opacity": 1},
   "encoding": {
    "x": {"field": "g", "type": "quantitative"},
    "y": {"field": "v", "type": "quantitative"},
    "shape": {"field": "s", "type": "nominal", "scale": {"domain": ["GS","WGS","GOCS","OC","RA","HE"], "range": ["circle","diamond","circle","circle","triangle-down","triangle-up"]}, "legend": {"orient": "top-left", "title": null, "offset": 5, "values": ["GOCS","OC","RA","HE"], "labelExpr": "datum.value=='GOCS'?'GOCS (Cₜ₊₁ = 0.05)':datum.value=='OC'?'IND−OC (α = 0.35)':datum.value=='RA'?'IND−RA (α = 0.35)':'IND−HE (α = 0.35)'"}},
    "fill": {"field": "s", "type": "nominal", "scale": {"domain": ["GS","WGS","GOCS","OC","RA","HE"], "range": ["black","#9a9a9a","#9a9a9a","transparent","transparent","#9a9a9a"]}, "legend": {"orient": "top-left", "title": null, "offset": 5, "values": ["GOCS","OC","RA","HE"], "labelExpr": "datum.value=='GOCS'?'GOCS (Cₜ₊₁ = 0.05)':datum.value=='OC'?'IND−OC (α = 0.35)':datum.value=='RA'?'IND−RA (α = 0.35)':'IND−HE (α = 0.35)'"}},
    "stroke": {"field": "s", "type": "nominal", "scale": {"domain": ["GS","WGS","GOCS","OC","RA","HE"], "range": ["black","#333333","#444444","#444444","#444444","#444444"]}, "legend": {"orient": "top-left", "title": null, "offset": 5, "values": ["GOCS","OC","RA","HE"], "labelExpr": "datum.value=='GOCS'?'GOCS (Cₜ₊₁ = 0.05)':datum.value=='OC'?'IND−OC (α = 0.35)':datum.value=='RA'?'IND−RA (α = 0.35)':'IND−HE (α = 0.35)'"}}
   }},
  {"data": {"values": [{"v": 0.05}]}, "mark": {"type": "rule", "strokeDash": [4,3], "color": "black", "strokeWidth": 1}, "encoding": {"y": {"field": "v", "type": "quantitative"}}},
  {"data": {"values": [{"g": 30.6, "v": 0.05, "t": "ΔF = 0.05"}]}, "mark": {"type": "text", "align": "right", "baseline": "top", "dy": 3, "fontSize": 9.5, "color": "black"}, "encoding": {"x": {"field": "g", "type": "quantitative"}, "y": {"field": "v", "type": "quantitative"}, "text": {"field": "t"}}}
 ]},
{"width": 322, "height": 206, "title": {"text": "Inbreeding rate ΔFIBS (h² = 0.2, TP = 1000)", "offset": 15},
 "data": {"name": "ir"},
 "layer": [
  {"mark": {"type": "line", "strokeWidth": 1},
   "encoding": {
    "x": {"field": "g", "type": "quantitative", "scale": {"domain": [-1.2, 31.2], "nice": false, "zero": false}, "axis": {"values": [0,2,4,6,8,10,12,14,16,18,20,22,24,26,28,30], "tickCount": 100, "format": "d", "title": "Generation", "labelOverlap": false}},
    "y": {"field": "v", "type": "quantitative", "scale": {"domain": [-0.068, 0.418], "nice": false, "zero": false}, "axis": {"values": [0,0.1,0.2,0.3,0.4], "tickCount": 100, "format": ".1f", "title": "Inbreeding rate", "labelOverlap": false}},
    "color": {"field": "s", "type": "nominal", "scale": {"domain": ["GS","WGS","GOCS","OC","RA","HE"], "range": ["black","#333333","#777777","#777777","#777777","#777777"]}, "legend": null},
    "strokeDash": {"field": "s", "type": "nominal", "scale": {"domain": ["GS","WGS","GOCS","OC","RA","HE"], "range": [[1,0],[4,3],[1,2],[1,2],[1,2],[1,2]]}, "legend": null}
   }},
  {"mark": {"type": "point", "size": 30, "strokeWidth": 1, "opacity": 1},
   "encoding": {
    "x": {"field": "g", "type": "quantitative"},
    "y": {"field": "v", "type": "quantitative"},
    "shape": {"field": "s", "type": "nominal", "scale": {"domain": ["GS","WGS","GOCS","OC","RA","HE"], "range": ["circle","diamond","circle","circle","triangle-down","triangle-up"]}, "legend": {"orient": "top-left", "title": null, "offset": 5, "values": ["GOCS","OC","RA","HE"], "labelExpr": "datum.value=='GOCS'?'GOCS (Cₜ₊₁ = 0.02)':datum.value=='OC'?'IND−OC (α = 0.65)':datum.value=='RA'?'IND−RA (α = 0.35)':'IND−HE (α = 0.35)'"}},
    "fill": {"field": "s", "type": "nominal", "scale": {"domain": ["GS","WGS","GOCS","OC","RA","HE"], "range": ["black","#9a9a9a","#9a9a9a","transparent","transparent","#9a9a9a"]}, "legend": {"orient": "top-left", "title": null, "offset": 5, "values": ["GOCS","OC","RA","HE"], "labelExpr": "datum.value=='GOCS'?'GOCS (Cₜ₊₁ = 0.02)':datum.value=='OC'?'IND−OC (α = 0.65)':datum.value=='RA'?'IND−RA (α = 0.35)':'IND−HE (α = 0.35)'"}},
    "stroke": {"field": "s", "type": "nominal", "scale": {"domain": ["GS","WGS","GOCS","OC","RA","HE"], "range": ["black","#333333","#444444","#444444","#444444","#444444"]}, "legend": {"orient": "top-left", "title": null, "offset": 5, "values": ["GOCS","OC","RA","HE"], "labelExpr": "datum.value=='GOCS'?'GOCS (Cₜ₊₁ = 0.02)':datum.value=='OC'?'IND−OC (α = 0.65)':datum.value=='RA'?'IND−RA (α = 0.35)':'IND−HE (α = 0.35)'"}}
   }},
  {"data": {"values": [{"v": 0.02}]}, "mark": {"type": "rule", "strokeDash": [4,3], "color": "black", "strokeWidth": 1}, "encoding": {"y": {"field": "v", "type": "quantitative"}}},
  {"data": {"values": [{"g": 30.6, "v": 0.02, "t": "ΔF = 0.02"}]}, "mark": {"type": "text", "align": "right", "baseline": "top", "dy": 3, "fontSize": 9.5, "color": "black"}, "encoding": {"x": {"field": "g", "type": "quantitative"}, "y": {"field": "v", "type": "quantitative"}, "text": {"field": "t"}}}
 ]},
{"width": 322, "height": 206, "title": {"text": "Inbreeding rate ΔFIBD (h² = 0.2, TP = 1000)", "offset": 15},
 "data": {"name": "dl"},
 "layer": [
  {"mark": {"type": "line", "strokeWidth": 1},
   "encoding": {
    "x": {"field": "g", "type": "quantitative", "scale": {"domain": [-1.2, 31.2], "nice": false, "zero": false}, "axis": {"values": [0,2,4,6,8,10,12,14,16,18,20,22,24,26,28,30], "tickCount": 100, "format": "d", "title": "Generation", "labelOverlap": false}},
    "y": {"field": "v", "type": "quantitative", "scale": {"domain": [-0.068, 0.418], "nice": false, "zero": false}, "axis": {"values": [0,0.1,0.2,0.3,0.4], "tickCount": 100, "format": ".1f", "title": "Inbreeding rate", "labelOverlap": false}},
    "color": {"field": "s", "type": "nominal", "scale": {"domain": ["GS","WGS","GOCS","OC","RA","HE"], "range": ["black","#333333","#777777","#777777","#777777","#777777"]}, "legend": null},
    "strokeDash": {"field": "s", "type": "nominal", "scale": {"domain": ["GS","WGS","GOCS","OC","RA","HE"], "range": [[1,0],[4,3],[1,2],[1,2],[1,2],[1,2]]}, "legend": null}
   }},
  {"mark": {"type": "point", "size": 30, "strokeWidth": 1, "opacity": 1},
   "encoding": {
    "x": {"field": "g", "type": "quantitative"},
    "y": {"field": "v", "type": "quantitative"},
    "shape": {"field": "s", "type": "nominal", "scale": {"domain": ["GS","WGS","GOCS","OC","RA","HE"], "range": ["circle","diamond","circle","circle","triangle-down","triangle-up"]}, "legend": {"orient": "top-left", "title": null, "offset": 5, "values": ["GOCS","OC","RA","HE"], "labelExpr": "datum.value=='GOCS'?'GOCS (Cₜ₊₁ = 0.05)':datum.value=='OC'?'IND−OC (α = 0.35)':datum.value=='RA'?'IND−RA (α = 0.35)':'IND−HE (α = 0.35)'"}},
    "fill": {"field": "s", "type": "nominal", "scale": {"domain": ["GS","WGS","GOCS","OC","RA","HE"], "range": ["black","#9a9a9a","#9a9a9a","transparent","transparent","#9a9a9a"]}, "legend": {"orient": "top-left", "title": null, "offset": 5, "values": ["GOCS","OC","RA","HE"], "labelExpr": "datum.value=='GOCS'?'GOCS (Cₜ₊₁ = 0.05)':datum.value=='OC'?'IND−OC (α = 0.35)':datum.value=='RA'?'IND−RA (α = 0.35)':'IND−HE (α = 0.35)'"}},
    "stroke": {"field": "s", "type": "nominal", "scale": {"domain": ["GS","WGS","GOCS","OC","RA","HE"], "range": ["black","#333333","#444444","#444444","#444444","#444444"]}, "legend": {"orient": "top-left", "title": null, "offset": 5, "values": ["GOCS","OC","RA","HE"], "labelExpr": "datum.value=='GOCS'?'GOCS (Cₜ₊₁ = 0.05)':datum.value=='OC'?'IND−OC (α = 0.35)':datum.value=='RA'?'IND−RA (α = 0.35)':'IND−HE (α = 0.35)'"}}
   }},
  {"data": {"values": [{"v": 0.05}]}, "mark": {"type": "rule", "strokeDash": [4,3], "color": "black", "strokeWidth": 1}, "encoding": {"y": {"field": "v", "type": "quantitative"}}},
  {"data": {"values": [{"g": 30.6, "v": 0.05, "t": "ΔF = 0.05"}]}, "mark": {"type": "text", "align": "right", "baseline": "top", "dy": 3, "fontSize": 9.5, "color": "black"}, "encoding": {"x": {"field": "g", "type": "quantitative"}, "y": {"field": "v", "type": "quantitative"}, "text": {"field": "t"}}}
 ]},
{"width": 322, "height": 206, "title": {"text": "Inbreeding rate ΔFIBD (h² = 0.2, TP = 1000)", "offset": 15},
 "data": {"name": "dr"},
 "layer": [
  {"mark": {"type": "line", "strokeWidth": 1},
   "encoding": {
    "x": {"field": "g", "type": "quantitative", "scale": {"domain": [-1.2, 31.2], "nice": false, "zero": false}, "axis": {"values": [0,2,4,6,8,10,12,14,16,18,20,22,24,26,28,30], "tickCount": 100, "format": "d", "title": "Generation", "labelOverlap": false}},
    "y": {"field": "v", "type": "quantitative", "scale": {"domain": [-0.068, 0.418], "nice": false, "zero": false}, "axis": {"values": [0,0.1,0.2,0.3,0.4], "tickCount": 100, "format": ".1f", "title": "Inbreeding rate", "labelOverlap": false}},
    "color": {"field": "s", "type": "nominal", "scale": {"domain": ["GS","WGS","GOCS","OC","RA","HE"], "range": ["black","#333333","#777777","#777777","#777777","#777777"]}, "legend": null},
    "strokeDash": {"field": "s", "type": "nominal", "scale": {"domain": ["GS","WGS","GOCS","OC","RA","HE"], "range": [[1,0],[4,3],[1,2],[1,2],[1,2],[1,2]]}, "legend": null}
   }},
  {"mark": {"type": "point", "size": 30, "strokeWidth": 1, "opacity": 1},
   "encoding": {
    "x": {"field": "g", "type": "quantitative"},
    "y": {"field": "v", "type": "quantitative"},
    "shape": {"field": "s", "type": "nominal", "scale": {"domain": ["GS","WGS","GOCS","OC","RA","HE"], "range": ["circle","diamond","circle","circle","triangle-down","triangle-up"]}, "legend": {"orient": "top-left", "title": null, "offset": 5, "values": ["GOCS","OC","RA","HE"], "labelExpr": "datum.value=='GOCS'?'GOCS (Cₜ₊₁ = 0.02)':datum.value=='OC'?'IND−OC (α = 0.65)':datum.value=='RA'?'IND−RA (α = 0.35)':'IND−HE (α = 0.35)'"}},
    "fill": {"field": "s", "type": "nominal", "scale": {"domain": ["GS","WGS","GOCS","OC","RA","HE"], "range": ["black","#9a9a9a","#9a9a9a","transparent","transparent","#9a9a9a"]}, "legend": {"orient": "top-left", "title": null, "offset": 5, "values": ["GOCS","OC","RA","HE"], "labelExpr": "datum.value=='GOCS'?'GOCS (Cₜ₊₁ = 0.02)':datum.value=='OC'?'IND−OC (α = 0.65)':datum.value=='RA'?'IND−RA (α = 0.35)':'IND−HE (α = 0.35)'"}},
    "stroke": {"field": "s", "type": "nominal", "scale": {"domain": ["GS","WGS","GOCS","OC","RA","HE"], "range": ["black","#333333","#444444","#444444","#444444","#444444"]}, "legend": {"orient": "top-left", "title": null, "offset": 5, "values": ["GOCS","OC","RA","HE"], "labelExpr": "datum.value=='GOCS'?'GOCS (Cₜ₊₁ = 0.02)':datum.value=='OC'?'IND−OC (α = 0.65)':datum.value=='RA'?'IND−RA (α = 0.35)':'IND−HE (α = 0.35)'"}}
   }},
  {"data": {"values": [{"v": 0.02}]}, "mark": {"type": "rule", "strokeDash": [4,3], "color": "black", "strokeWidth": 1}, "encoding": {"y": {"field": "v", "type": "quantitative"}}},
  {"data": {"values": [{"g": 30.6, "v": 0.02, "t": "ΔF = 0.02"}]}, "mark": {"type": "text", "align": "right", "baseline": "top", "dy": 3, "fontSize": 9.5, "color": "black"}, "encoding": {"x": {"field": "g", "type": "quantitative"}, "y": {"field": "v", "type": "quantitative"}, "text": {"field": "t"}}}
 ]}
]
}
